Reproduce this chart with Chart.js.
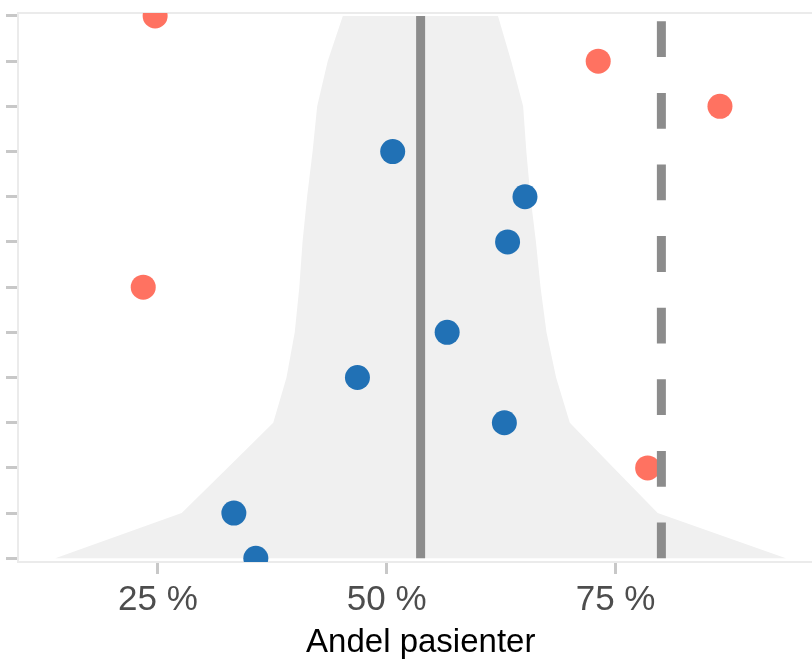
<!DOCTYPE html>
<html>
<head>
<meta charset="utf-8">
<script src="https://cdn.jsdelivr.net/npm/chart.js@4"></script>
<style>
  html, body { margin: 0; padding: 0; background: #fff; overflow: hidden; }
  #wrap { width: 812px; height: 660px; overflow: hidden; }
</style>
</head>
<body>
<div id="wrap"><canvas id="trakt" width="836" height="660"></canvas></div>
<script>
// Rader (enheter) nedenfra og opp, uten navn på aksen
const rader = [1, 2, 3, 4, 5, 6, 7, 8, 9, 10, 11, 12, 13];
// Andel pasienter (%) for hver rad
const andel = [35.7, 33.3, 78.5, 62.85, 46.8, 56.6, 23.4, 63.2, 65.1, 50.65, 86.4, 73.1, 24.7];
// Traktens nedre og øvre grense (%) for hver rad
const nedre = [13.8, 27.6, 32.6, 37.6, 39.05, 39.95, 40.45, 40.8, 41.3, 41.9, 42.4, 43.55, 45.2];
const ovre = [93.6, 79.6, 74.8, 70.0, 68.5, 67.45, 66.8, 66.3, 65.7, 65.25, 64.9, 63.6, 62.15];
// Snitt og måltall (%)
const snitt = 53.7;
const maal = 80;
// Tall på x-aksen
const xTicks = [25, 50, 75];

const font = '"Liberation Sans", Arial, sans-serif';

// Trakten som ett lukket polygon: nedre grense opp, øvre grense ned igjen
let trakt = [];
rader.forEach((r, i) => trakt.push({ x: nedre[i], y: r }));
for (let i = rader.length - 1; i >= 0; i--) trakt.push({ x: ovre[i], y: rader[i] });

// Punktene, røde hvis de ligger utenfor trakten
let punkter = rader.map((r, i) => ({ x: andel[i], y: r }));
let farger = rader.map((r, i) =>
  (andel[i] < nedre[i] || andel[i] > ovre[i]) ? "#FF7261" : "#2171B5");

const yBunn = rader[0];
const yTopp = rader[rader.length - 1];

new Chart(document.getElementById("trakt"), {
  type: "line",
  data: {
    datasets: [
      {
        // måltall, stiplet linje
        data: [{ x: maal, y: yBunn }, { x: maal, y: yTopp }],
        borderColor: "#8C8C8C",
        borderWidth: 9,
        borderDash: [35.8, 35.8],
        pointRadius: 0,
        fill: false,
        order: 0
      },
      {
        // snitt
        data: [{ x: snitt, y: yBunn }, { x: snitt, y: yTopp }],
        borderColor: "#8C8C8C",
        borderWidth: 9,
        pointRadius: 0,
        fill: false,
        order: 0
      },
      {
        data: punkter,
        showLine: false,
        pointRadius: 12.5,
        pointHoverRadius: 12.5,
        pointBorderWidth: 0,
        pointBackgroundColor: farger,
        clip: 0,
        order: 1
      },
      {
        data: trakt,
        borderWidth: 0,
        borderColor: "rgba(0,0,0,0)",
        backgroundColor: "#F0F0F0",
        pointRadius: 0,
        fill: "shape",
        tension: 0,
        order: 2
      }
    ]
  },
  options: {
    responsive: false,
    animation: false,
    layout: { padding: { left: 6, right: 5.5, top: 13, bottom: 0 } },
    plugins: {
      legend: { display: false },
      tooltip: { enabled: false }
    },
    scales: {
      x: {
        type: "linear",
        position: "bottom",
        min: 9.72,
        max: 97.71,
        afterBuildTicks: (scale) => { scale.ticks = xTicks.map(v => ({ value: v })); },
        grid: {
          drawOnChartArea: false,
          drawTicks: true,
          tickLength: 12,
          tickColor: "#C8C8C8",
          tickWidth: 3
        },
        border: { display: true, color: "#EBEBEB", width: 2 },
        ticks: {
          padding: 5,
          color: "#4D4D4D",
          font: { family: font, size: 35 },
          maxRotation: 0,
          callback: (v) => v + " %"
        },
        title: {
          display: true,
          text: "Andel pasienter",
          color: "#000",
          font: { family: font, size: 33, lineHeight: 1.0 },
          padding: { top: 0, bottom: 1 }
        }
      },
      // bare for rammen øverst
      xTopp: {
        type: "linear",
        position: "top",
        grid: { display: false, drawTicks: false },
        border: { display: true, color: "#EBEBEB", width: 2 },
        ticks: { display: false }
      },
      y: {
        type: "linear",
        position: "left",
        min: 0.918,
        max: 13.066,
        afterBuildTicks: (scale) => { scale.ticks = rader.map(v => ({ value: v })); },
        grid: {
          drawOnChartArea: false,
          drawTicks: true,
          tickLength: 12,
          tickColor: "#C8C8C8",
          tickWidth: 3
        },
        border: { display: true, color: "#EBEBEB", width: 2 },
        ticks: { display: false }
      }
    }
  }
});
</script>
</body>
</html>
